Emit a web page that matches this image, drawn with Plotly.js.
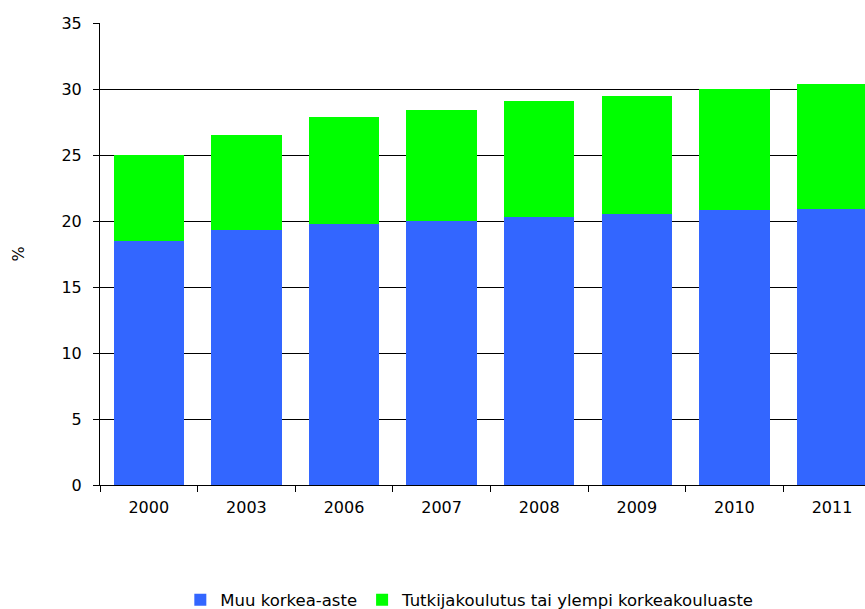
<!DOCTYPE html>
<html><head><meta charset="utf-8">
<script src="https://cdn.plot.ly/plotly-3.0.1.min.js"></script>
<style>html,body{margin:0;padding:0;background:#fff}#chart{width:865px;height:609px}</style>
</head><body><div id="chart"></div>
<script>
const years = ["2000","2003","2006","2007","2008","2009","2010","2011"];
const muuKorkeaAste = [18.5, 19.3, 19.8, 20.0, 20.3, 20.5, 20.8, 20.9];
const tutkijakoulutus = [6.5, 7.2, 8.1, 8.4, 8.8, 9.0, 9.2, 9.5];
const seriesNames = ["Muu korkea-aste", "Tutkijakoulutus tai ylempi korkeakouluaste"];

const font = {family: "DejaVu Sans, Arial, sans-serif", size: 16, color: "#000"};
const legendFont = {family: "DejaVu Sans, Arial, sans-serif", size: 16.5, color: "#000"};
const traces = [
  {type: "bar", name: seriesNames[0], x: years, y: muuKorkeaAste, marker: {color: "#3366FF"}, width: 0.72},
  {type: "bar", name: seriesNames[1], x: years, y: tutkijakoulutus, marker: {color: "#00FF00"}, width: 0.72}
];
const layout = {
  width: 865, height: 609,
  margin: {l: 100, r: 0, t: 23, b: 124, autoexpand: false},
  barmode: "stack",
  paper_bgcolor: "#fff", plot_bgcolor: "#fff",
  font: font,
  showlegend: true,
  legend: {orientation: "h", x: 0.105, xanchor: "left", y: -0.249, yanchor: "middle", font: legendFont, itemwidth: 30, traceorder: "normal"},
  xaxis: {
    type: "category", range: [-0.5, 7.338],
    showline: true, linecolor: "#000", linewidth: 1,
    ticks: "outside", ticklen: 6, tickcolor: "#000", tickson: "boundaries",
    showgrid: false, tickfont: font, ticklabelstandoff: 8
  },
  yaxis: {
    range: [0, 35], dtick: 5, tick0: 0,
    showline: true, linecolor: "#000", linewidth: 1,
    ticks: "outside", ticklen: 6, tickcolor: "#000",
    showgrid: true, gridcolor: "#000", gridwidth: 1,
    zeroline: false, tickfont: font, ticklabelstandoff: 8,
    title: {text: "%", font: font, standoff: 32}
  }
};
Plotly.newPlot("chart", traces, layout, {staticPlot: true});
</script></body></html>
